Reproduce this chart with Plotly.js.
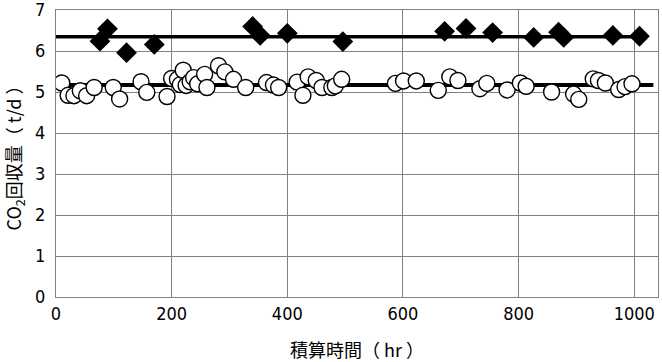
<!DOCTYPE html>
<html><head><meta charset="utf-8">
<script src="https://cdn.plot.ly/plotly-3.0.1.min.js"></script>
<style>body{margin:0;background:#fff}#c{width:662px;height:362px}</style>
</head><body><div id="c"></div>
<script>
const xTickVals = [0, 200, 400, 600, 800, 1000];
const yTickVals = [0, 1, 2, 3, 4, 5, 6, 7];

const diamondX = [76, 89, 122, 170, 340, 353, 400, 496, 672, 709, 755, 826, 869, 878, 963, 1009];
const diamondY = [6.24, 6.54, 5.96, 6.16, 6.60, 6.38, 6.43, 6.23, 6.48, 6.55, 6.45, 6.33, 6.46, 6.33, 6.38, 6.36];

const circleX = [10, 21, 31, 42, 53, 66, 99, 110, 147, 157, 192, 200, 210, 215, 220, 225, 232, 238, 245, 257, 261, 281, 292, 307, 328, 364, 376, 385, 417, 427, 436, 450, 460, 477, 483, 494, 587, 601, 623, 661, 681, 695, 733, 745, 780, 803, 813, 857, 895, 904, 929, 938, 950, 973, 984, 996];
const circleY = [5.22, 4.92, 4.91, 5.03, 4.91, 5.11, 5.11, 4.83, 5.25, 4.99, 4.89, 5.33, 5.31, 5.18, 5.53, 5.16, 5.25, 5.35, 5.2, 5.43, 5.11, 5.64, 5.49, 5.31, 5.11, 5.23, 5.17, 5.11, 5.24, 4.92, 5.37, 5.28, 5.11, 5.11, 5.15, 5.31, 5.21, 5.27, 5.27, 5.04, 5.37, 5.28, 5.08, 5.21, 5.05, 5.22, 5.14, 5.0, 4.95, 4.82, 5.32, 5.28, 5.22, 5.06, 5.13, 5.2];

const diamondMeanX = [0, 1020];
const diamondMeanY = [6.35, 6.35];
const circleMeanX = [21, 1033];
const circleMeanY = [5.17, 5.17];

const traces = [
  {x: diamondMeanX, y: diamondMeanY, mode: 'lines', line: {color: '#000', width: 3.5}, showlegend: false, hoverinfo: 'skip'},
  {x: circleMeanX, y: circleMeanY, mode: 'lines', line: {color: '#000', width: 4}, showlegend: false, hoverinfo: 'skip'},
  {x: circleX, y: circleY, mode: 'markers', marker: {symbol: 'circle', size: 16, color: '#fff', line: {color: '#000', width: 1.4}}, showlegend: false},
  {x: diamondX, y: diamondY, mode: 'markers', marker: {symbol: 'diamond', size: 16, color: '#000', line: {width: 0}}, showlegend: false}
];

const tickFont = {family: 'DejaVu Sans Condensed, Liberation Sans, sans-serif', size: 18, color: '#000'};
const layout = {
  width: 662, height: 362,
  margin: {l: 56, r: 4, t: 10, b: 65},
  paper_bgcolor: '#fff', plot_bgcolor: '#fff',
  xaxis: {
    range: [0, 1041], tickvals: xTickVals, ticktext: xTickVals.map(String),
    showgrid: true, gridcolor: '#808080', gridwidth: 1,
    showline: true, linecolor: '#808080', linewidth: 1, mirror: true,
    ticks: '', zeroline: false, tickfont: tickFont, automargin: false,
    title: {text: '積算時間（ hr ）', font: {family: 'Noto Sans CJK JP', size: 18, color: '#000'}, standoff: 24}
  },
  yaxis: {
    range: [0, 7.0001], tickvals: yTickVals, ticktext: yTickVals.map(String),
    showgrid: true, gridcolor: '#808080', gridwidth: 1,
    showline: true, linecolor: '#808080', linewidth: 1, mirror: true,
    ticks: '', zeroline: false, tickfont: tickFont, ticklabelstandoff: 6, automargin: false,
    ticklabeloverflow: 'allow',
    title: {text: 'CO<sub>2</sub>回収量（ t/d ）', font: {family: 'Noto Sans CJK JP', size: 18, color: '#000'}, standoff: 8}
  }
};
Plotly.newPlot('c', traces, layout, {displayModeBar: false, staticPlot: true});
</script></body></html>
